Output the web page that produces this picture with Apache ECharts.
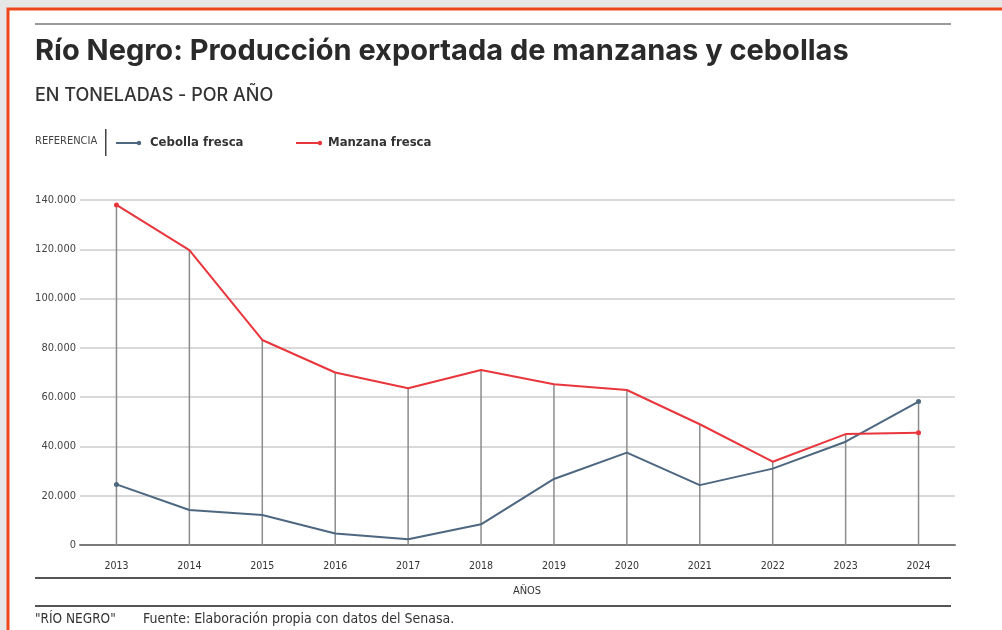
<!DOCTYPE html>
<html>
<head>
<meta charset="utf-8">
<style>
  html, body { margin: 0; padding: 0; background: #e6e6e6; }
  #chart { width: 1002px; height: 630px; }
</style>
<script src="https://cdn.jsdelivr.net/npm/echarts@6/dist/echarts.min.js"></script>
</head>
<body>
<div id="chart"></div>
<script>
// Exportaciones anuales de Río Negro (toneladas)
const years = ['2013','2014','2015','2016','2017','2018','2019','2020','2021','2022','2023','2024'];
const cebolla = [24600, 14200, 12200, 4700, 2300, 8400, 26800, 37500, 24300, 31000, 41900, 58200];
const manzana = [138000, 119700, 83200, 70000, 63600, 71000, 65200, 62900, 49000, 33800, 45000, 45600];
const yTicks = [0, 20000, 40000, 60000, 80000, 100000, 120000, 140000];

const RED = '#e8363c';
const BLUE = '#4d6781';
const NARROW = '"DejaVu Sans Condensed","Liberation Sans Narrow",Arial,sans-serif';
const HEAD = 'Inter,"Liberation Sans",Arial,sans-serif';

// vertical guide from the axis up to the highest of both series in each year
const guide = years.map((_, i) => Math.max(cebolla[i], manzana[i]));

function miles(v) {
  return String(v).replace(/\B(?=(\d{3})+(?!\d))/g, '.');
}

const last = years.length - 1;
const endDots = (v, p) => (p.dataIndex === 0 || p.dataIndex === last) ? 5 : 0;

const chart = echarts.init(document.getElementById('chart'));
chart.setOption({
  backgroundColor: '#e6e6e6',
  animation: false,
  grid: { left: 80, right: 47, top: 200, bottom: 85, containLabel: false },
  xAxis: {
    type: 'category',
    data: years,
    boundaryGap: true,
    axisLine: { lineStyle: { color: '#7a7a7a', width: 2 } },
    axisTick: { alignWithLabel: true, length: 4, lineStyle: { color: '#7a7a7a' } },
    axisLabel: { color: '#333', fontFamily: NARROW, fontSize: 10.5, margin: 16 },
    splitLine: { show: false }
  },
  yAxis: {
    type: 'value',
    min: yTicks[0],
    max: yTicks[yTicks.length - 1],
    interval: yTicks[1] - yTicks[0],
    axisLine: { show: false },
    axisTick: { show: false },
    axisLabel: { color: '#444', fontFamily: NARROW, fontSize: 11, margin: 4, formatter: miles },
    splitLine: { lineStyle: { color: '#d9d9d9', width: 2 } }
  },
  graphic: [
    // marco de la nota
    { type: 'rect', shape: { x: 8, y: 9, width: 1000, height: 630 }, style: { fill: '#ffffff', stroke: '#f0461c', lineWidth: 3 }, z: -10 },
    { type: 'rect', shape: { x: 35, y: 23, width: 916, height: 2 }, style: { fill: '#9a9a9a' } },
    { type: 'text', left: 35, top: 37, style: { text: 'Río Negro: Producción exportada de manzanas y cebollas', font: '700 29px ' + HEAD, fill: '#2a2a2a' } },
    { type: 'text', left: 35, top: 87, style: { text: 'EN TONELADAS - POR AÑO', font: '500 18px ' + HEAD, fill: '#333' } },
    // referencias
    { type: 'text', left: 35, top: 136, style: { text: 'REFERENCIA', font: '11px ' + NARROW, fill: '#444' } },
    { type: 'rect', shape: { x: 105, y: 129, width: 1.5, height: 27 }, style: { fill: '#444' } },
    { type: 'line', shape: { x1: 116, y1: 143, x2: 139, y2: 143 }, style: { stroke: BLUE, lineWidth: 2 } },
    { type: 'circle', shape: { cx: 139, cy: 143, r: 2.2 }, style: { fill: BLUE } },
    { type: 'text', left: 150, top: 136, style: { text: 'Cebolla fresca', font: 'bold 13px ' + NARROW, fill: '#333' } },
    { type: 'line', shape: { x1: 296, y1: 143, x2: 320, y2: 143 }, style: { stroke: RED, lineWidth: 2 } },
    { type: 'circle', shape: { cx: 320, cy: 143, r: 2.2 }, style: { fill: RED } },
    { type: 'text', left: 328, top: 136, style: { text: 'Manzana fresca', font: 'bold 13px ' + NARROW, fill: '#333' } },
    // pie del gráfico
    { type: 'rect', shape: { x: 35, y: 577, width: 916, height: 2 }, style: { fill: '#555' } },
    { type: 'text', x: 527, y: 586, style: { text: 'AÑOS', font: '11px ' + NARROW, fill: '#333', align: 'center' } },
    { type: 'rect', shape: { x: 35, y: 605, width: 916, height: 2 }, style: { fill: '#555' } },
    { type: 'text', left: 35, top: 612, style: { text: '"RÍO NEGRO"', font: '13.5px ' + NARROW, fill: '#333' } },
    { type: 'text', left: 143, top: 612, style: { text: 'Fuente: Elaboración propia con datos del Senasa.', font: '14px ' + NARROW, fill: '#333' } }
  ],
  series: [
    {
      name: 'guia',
      type: 'bar',
      data: guide,
      barWidth: 1.5,
      itemStyle: { color: '#8c8c8c' },
      silent: true,
      z: 1
    },
    {
      name: 'Cebolla fresca',
      type: 'line',
      data: cebolla,
      symbol: 'circle',
      symbolSize: endDots,
      lineStyle: { color: BLUE, width: 2 },
      itemStyle: { color: BLUE },
      z: 3
    },
    {
      name: 'Manzana fresca',
      type: 'line',
      data: manzana,
      symbol: 'circle',
      symbolSize: endDots,
      lineStyle: { color: RED, width: 2 },
      itemStyle: { color: RED },
      z: 3
    }
  ]
});
</script>
</body>
</html>
